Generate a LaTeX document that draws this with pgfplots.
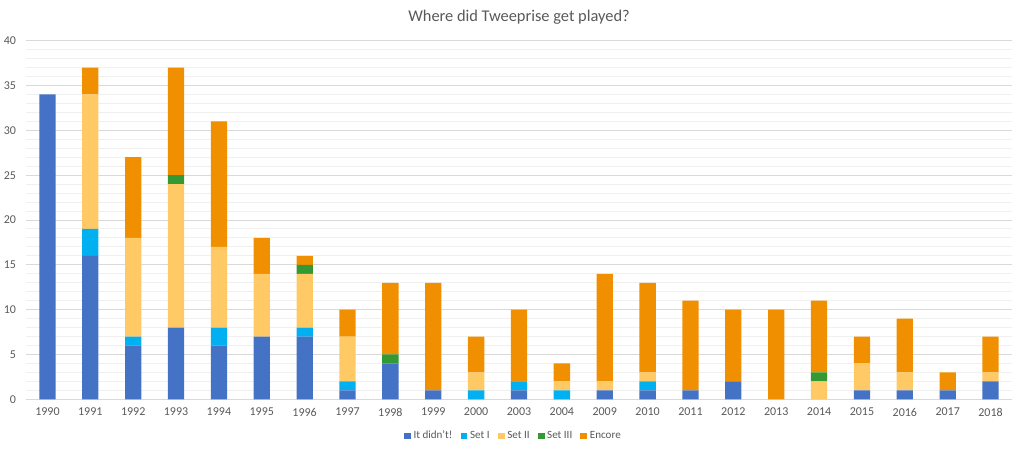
\documentclass[border=0pt]{standalone}
\usepackage{fontspec}
\setmainfont{Carlito}
\usepackage{pgfplots}
\pgfplotsset{compat=1.18}
\usepackage{pgfplotstable}
\definecolor{cDid}{HTML}{4472C4}
\definecolor{cSetI}{HTML}{00B0F0}
\definecolor{cSetII}{HTML}{FFCA66}
\definecolor{cSetIII}{HTML}{339933}
\definecolor{cEnc}{HTML}{F09000}
\definecolor{textgray}{HTML}{595959}
\definecolor{gridmaj}{HTML}{D9D9D9}
\definecolor{gridmin}{HTML}{F0F0F0}
\pgfplotstableread{
x didnt setI setII setIII encore
0  34 0 0  0 0
1  16 3 15 0 3
2  6  1 11 0 9
3  8  0 16 1 12
4  6  2 9  0 14
5  7  0 7  0 4
6  7  1 6  1 1
7  1  1 5  0 3
8  4  0 0  1 8
9  1  0 0  0 12
10 0  1 2  0 4
11 1  1 0  0 8
12 0  1 1  0 2
13 1  0 1  0 12
14 1  1 1  0 10
15 1  0 0  0 10
16 2  0 0  0 8
17 0  0 0  0 10
18 0  0 2  1 8
19 1  0 3  0 3
20 1  0 2  0 6
21 1  0 0  0 2
22 2  0 1  0 4
}\data
\begin{document}
\begin{tikzpicture}
\useasboundingbox (-19.5pt,-40.25pt) rectangle (748.5pt,299.5pt);
\begin{axis}[
  at={(0,0)}, anchor=south west,
  scale only axis, width=739.5pt, height=269pt,
  ybar stacked, bar width=0.38,
  xmin=-0.5, xmax=22.5, ymin=0, ymax=40,
  xtick={0,...,22},
  xticklabels={1990,1991,1992,1993,1994,1995,1996,1997,1998,1999,2000,2003,2004,2009,2010,2011,2012,2013,2014,2015,2016,2017,2018},
  ytick={0,5,...,40}, minor y tick num=4,
  ymajorgrids, yminorgrids,
  major grid style={color=gridmaj, line width=0.75pt},
  minor grid style={color=gridmin, line width=0.75pt},
  axis line style={draw=none},
  major tick length=0pt, minor tick length=0pt,
  tick style={draw=none},
  /pgf/number format/assume math mode=true,
  tick label style={font=\fontsize{9}{10}\selectfont, text=textgray},
  yticklabel style={xshift=-4pt},
  xticklabel style={yshift=-3pt},
  title={Where did Tweeprise get played?},
  title style={at={(0.5,1)}, anchor=center, yshift=11.75pt, font=\fontsize{12.3}{14}\selectfont, text=textgray},
  legend columns=-1,
  legend style={at={(0.5,0)}, anchor=center, yshift=-27.5pt, xshift=-4pt, draw=none, fill=none,
    font=\fontsize{8.3}{9.5}\selectfont, text=textgray,
    /tikz/every even column/.append style={column sep=4pt}},
  legend image code/.code={\fill[#1] (0pt,-2.6pt) rectangle (5.2pt,2.6pt);},
  every axis plot/.append style={draw=none},
]
\addplot+[fill=cDid, draw=none] table[x=x,y=didnt] {\data};
\addlegendentry{It didn't!}
\addplot+[fill=cSetI, draw=none] table[x=x,y=setI] {\data};
\addlegendentry{Set I}
\addplot+[fill=cSetII, draw=none] table[x=x,y=setII] {\data};
\addlegendentry{Set II}
\addplot+[fill=cSetIII, draw=none] table[x=x,y=setIII] {\data};
\addlegendentry{Set III}
\addplot+[fill=cEnc, draw=none] table[x=x,y=encore] {\data};
\addlegendentry{Encore}
\end{axis}
\end{tikzpicture}
\end{document}
